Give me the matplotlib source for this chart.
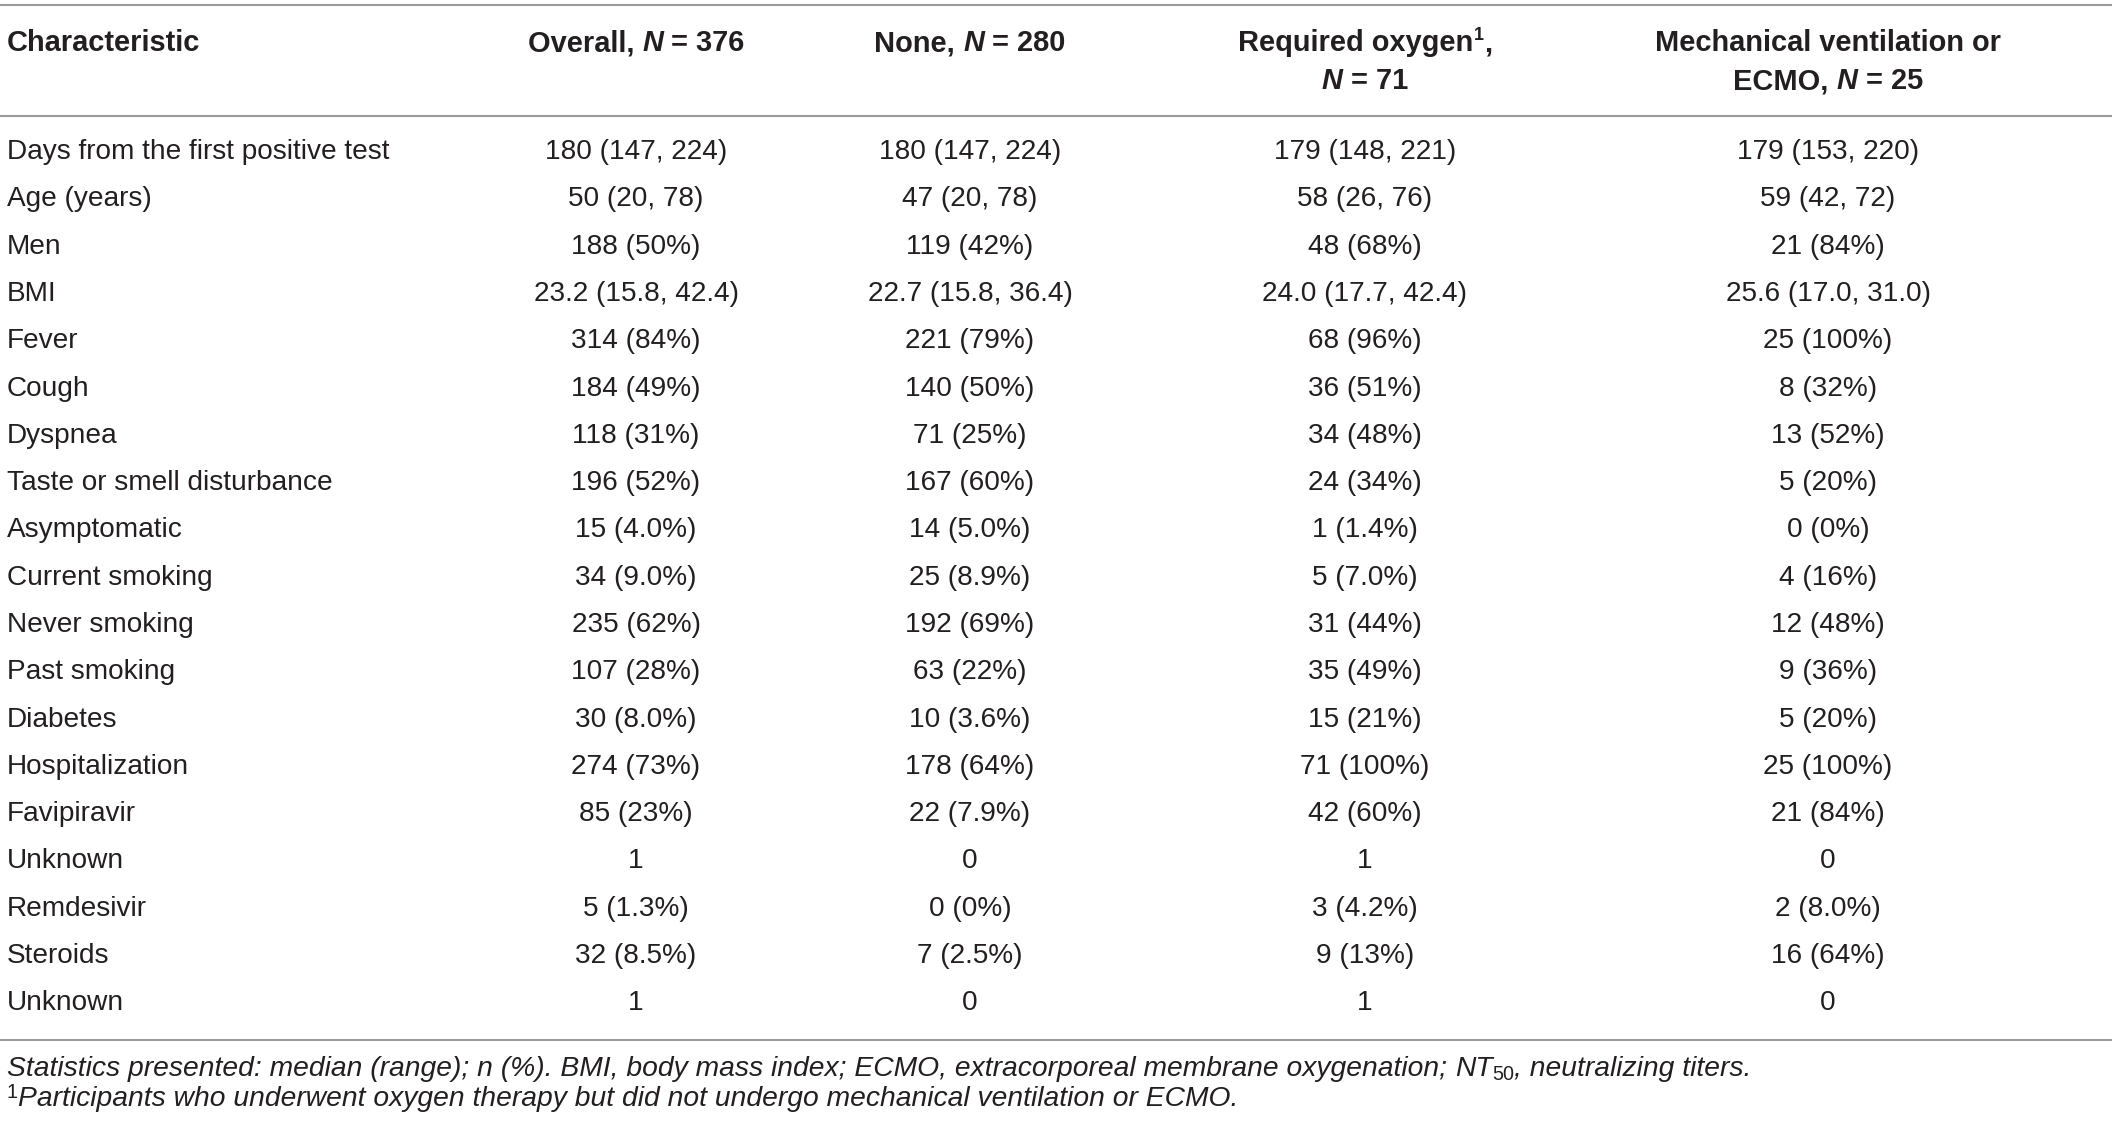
import matplotlib
matplotlib.use('Agg')
import matplotlib.pyplot as plt

# table content
characteristics = [
    'Days from the first positive test', 'Age (years)', 'Men', 'BMI', 'Fever', 'Cough',
    'Dyspnea', 'Taste or smell disturbance', 'Asymptomatic', 'Current smoking',
    'Never smoking', 'Past smoking', 'Diabetes', 'Hospitalization', 'Favipiravir',
    'Unknown', 'Remdesivir', 'Steroids', 'Unknown',
]
overall = ['180 (147, 224)', '50 (20, 78)', '188 (50%)', '23.2 (15.8, 42.4)', '314 (84%)',
           '184 (49%)', '118 (31%)', '196 (52%)', '15 (4.0%)', '34 (9.0%)', '235 (62%)',
           '107 (28%)', '30 (8.0%)', '274 (73%)', '85 (23%)', '1', '5 (1.3%)', '32 (8.5%)', '1']
none = ['180 (147, 224)', '47 (20, 78)', '119 (42%)', '22.7 (15.8, 36.4)', '221 (79%)',
        '140 (50%)', '71 (25%)', '167 (60%)', '14 (5.0%)', '25 (8.9%)', '192 (69%)',
        '63 (22%)', '10 (3.6%)', '178 (64%)', '22 (7.9%)', '0', '0 (0%)', '7 (2.5%)', '0']
oxygen = ['179 (148, 221)', '58 (26, 76)', '48 (68%)', '24.0 (17.7, 42.4)', '68 (96%)',
          '36 (51%)', '34 (48%)', '24 (34%)', '1 (1.4%)', '5 (7.0%)', '31 (44%)',
          '35 (49%)', '15 (21%)', '71 (100%)', '42 (60%)', '1', '3 (4.2%)', '9 (13%)', '1']
mech = ['179 (153, 220)', '59 (42, 72)', '21 (84%)', '25.6 (17.0, 31.0)', '25 (100%)',
        '8 (32%)', '13 (52%)', '5 (20%)', '0 (0%)', '4 (16%)', '12 (48%)',
        '9 (36%)', '5 (20%)', '25 (100%)', '21 (84%)', '0', '2 (8.0%)', '16 (64%)', '0']

W, H = 2118, 1125
TXT = '#231f20'
LINE = '#9a9a9a'
FONT = ['Liberation Sans', 'DejaVu Sans']
BODY = 20.2
HEAD = 20.9
NOTE = 20.3

fig = plt.figure(figsize=(W / 100, H / 100), dpi=100)
ax = fig.add_axes([0, 0, 1, 1])
ax.set_xlim(0, W)
ax.set_ylim(H, 0)
ax.axis('off')
fig.canvas.draw()
renderer = fig.canvas.get_renderer()


def text_width(s, **kw):
    t = ax.text(0, 0, s, family=FONT, **kw)
    bb = t.get_window_extent(renderer)
    t.remove()
    return bb.width


def runs(x, y, parts, ha='left', size=BODY):
    """draw text made of pieces with different styles, e.g. bold + italic N"""
    widths = []
    for s, kw in parts:
        k = dict(size=size)
        k.update({a: b for a, b in kw.items() if a != 'dy'})
        widths.append(text_width(s, **k))
    total = sum(widths)
    cur = x - total / 2 if ha == 'center' else x
    for (s, kw), w in zip(parts, widths):
        k = dict(size=size)
        k.update({a: b for a, b in kw.items() if a != 'dy'})
        ax.text(cur, y + kw.get('dy', 0), s, family=FONT, color=TXT, va='center', ha='left', **k)
        cur += w


B = {'weight': 'bold'}
BI = {'weight': 'bold', 'style': 'italic'}
I = {'style': 'italic'}
SUP_H = {'weight': 'bold', 'size': HEAD * 0.62, 'dy': -8}

# rules
for yy in (5, 116, 1040):
    ax.plot([0, 2112], [yy, yy], color=LINE, lw=1.5, solid_capstyle='butt')

# header
col_x = [636, 970, 1365, 1828]
y1, y2 = 43, 81
ax.text(7, y1, 'Characteristic', family=FONT, size=HEAD, weight='bold', color=TXT, va='center')
runs(col_x[0], y1, [('Overall,\u00a0', B), ('N', BI), ('\u00a0= 376', B)], ha='center', size=HEAD)
runs(col_x[1], y1, [('None,\u00a0', B), ('N', BI), ('\u00a0= 280', B)], ha='center', size=HEAD)
runs(col_x[2], y1, [('Required oxygen', B), ('1', SUP_H), (',', B)], ha='center', size=HEAD)
runs(col_x[2], y2, [('N', BI), ('\u00a0= 71', B)], ha='center', size=HEAD)
runs(col_x[3], y1, [('Mechanical ventilation or', B)], ha='center', size=HEAD)
runs(col_x[3], y2, [('ECMO,\u00a0', B), ('N', BI), ('\u00a0= 25', B)], ha='center', size=HEAD)

# body rows
y0, step = 152, 47.3
for i, name in enumerate(characteristics):
    y = y0 + i * step
    ax.text(7, y, name, family=FONT, size=BODY, color=TXT, va='center')
    for cx, col in zip(col_x, (overall, none, oxygen, mech)):
        ax.text(cx, y, col[i], family=FONT, size=BODY, color=TXT, va='center', ha='center')

# footnotes
runs(7, 1069, [('Statistics presented: median (range); n (%). BMI, body mass index; '
                'ECMO, extracorporeal membrane oxygenation;\u00a0', I),
               ('NT', I), ('50', {'size': NOTE * 0.7, 'dy': 5}),
               (', neutralizing titers.', I)], size=NOTE)
runs(7, 1099, [('1', {'size': NOTE * 0.7, 'dy': -6}),
               ('Participants who underwent oxygen therapy but did not undergo '
                'mechanical ventilation or ECMO.', I)], size=NOTE)

fig.savefig('out.png', dpi=100, facecolor='white')
